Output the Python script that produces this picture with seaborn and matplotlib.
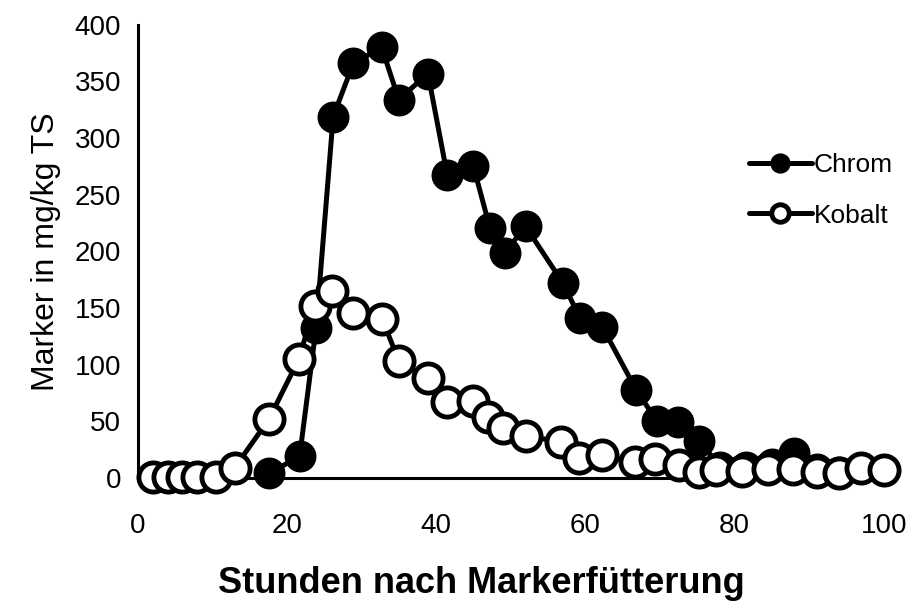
import matplotlib
matplotlib.use("Agg")
import matplotlib.pyplot as plt
import seaborn as sns
import pandas as pd

# Chrom marker concentration (mg/kg TS)
chrom_h = [17.6, 21.7, 23.9, 26.2, 28.9, 32.7, 35.0, 38.9, 41.5, 45.0, 47.2, 49.2, 52.0,
           57.0, 59.3, 62.3, 66.8, 69.6, 72.4, 75.3, 78.0, 81.5, 85.0, 88.0, 91.0, 94.0]
chrom_val = [4, 19, 132, 319, 366, 380, 334, 357, 267, 275, 221, 199, 222,
             172, 141, 133, 78, 50, 49, 33, 10, 10, 12, 22, 8, 5]

# Kobalt marker concentration (mg/kg TS)
kobalt_h = [2.0, 4.0, 6.0, 8.0, 10.5, 13.0, 17.6, 21.6, 23.7, 26.1, 28.8, 32.8, 35.0, 38.9,
            41.5, 45.0, 47.0, 49.0, 52.0, 56.8, 59.2, 62.2, 66.6, 69.3, 72.6, 75.3, 77.5,
            81.0, 84.5, 87.8, 91.0, 94.0, 97.0, 100.0]
kobalt_val = [1, 1, 1, 1, 1, 9, 52, 105, 152, 165, 146, 140, 103, 88,
              67, 68, 54, 44, 37, 32, 18, 20, 14, 17, 11, 5, 7,
              6, 8, 8, 5, 4, 9, 7]

sns.set_style("white")
plt.rcParams['font.family'] = ['Liberation Sans', 'DejaVu Sans']
plt.rcParams['text.color'] = 'black'
plt.rcParams['axes.labelcolor'] = 'black'

fig = plt.figure(figsize=(9.12, 6.05), dpi=100)
ax = fig.add_axes([0.151, 0.21, 0.818, 0.749])

df_cr = pd.DataFrame({"h": chrom_h, "v": chrom_val})
df_co = pd.DataFrame({"h": kobalt_h, "v": kobalt_val})

sns.lineplot(data=df_cr, x="h", y="v", ax=ax, color="black", lw=3.6, marker="o",
             markersize=21, markerfacecolor="black", markeredgecolor="black",
             markeredgewidth=2, estimator=None, label="Chrom", clip_on=False, zorder=3)
sns.lineplot(data=df_co, x="h", y="v", ax=ax, color="black", lw=3.6, marker="o",
             markersize=21, markerfacecolor="white", markeredgecolor="black",
             markeredgewidth=3.5, estimator=None, label="Kobalt", clip_on=False, zorder=4)

ax.set_xlim(0, 100)
ax.set_ylim(0, 400)
ax.set_xticks(range(0, 101, 20))
ax.set_yticks(range(0, 401, 50))
for s in ["top", "right"]:
    ax.spines[s].set_visible(False)
for s in ["left", "bottom"]:
    ax.spines[s].set_linewidth(2.2)
    ax.spines[s].set_color("black")
ax.tick_params(axis="both", direction="out", length=7, width=2.2, colors="black",
               labelsize=20)
ax.tick_params(axis="x", pad=18)
ax.tick_params(axis="y", pad=5)

ax.set_xlabel("Stunden nach Markerfütterung", fontsize=26, fontweight="bold")
ax.xaxis.set_label_coords(0.46, -0.195)
ax.set_ylabel("Marker in mg/kg TS", fontsize=23, labelpad=10)

leg = ax.legend(loc="upper left", bbox_to_anchor=(0.805, 0.74), frameon=False, fontsize=19,
                markerscale=0.6, handlelength=2.4, handletextpad=0.05, labelspacing=1.0,
                borderaxespad=0)

fig.savefig("out.png", dpi=100)
